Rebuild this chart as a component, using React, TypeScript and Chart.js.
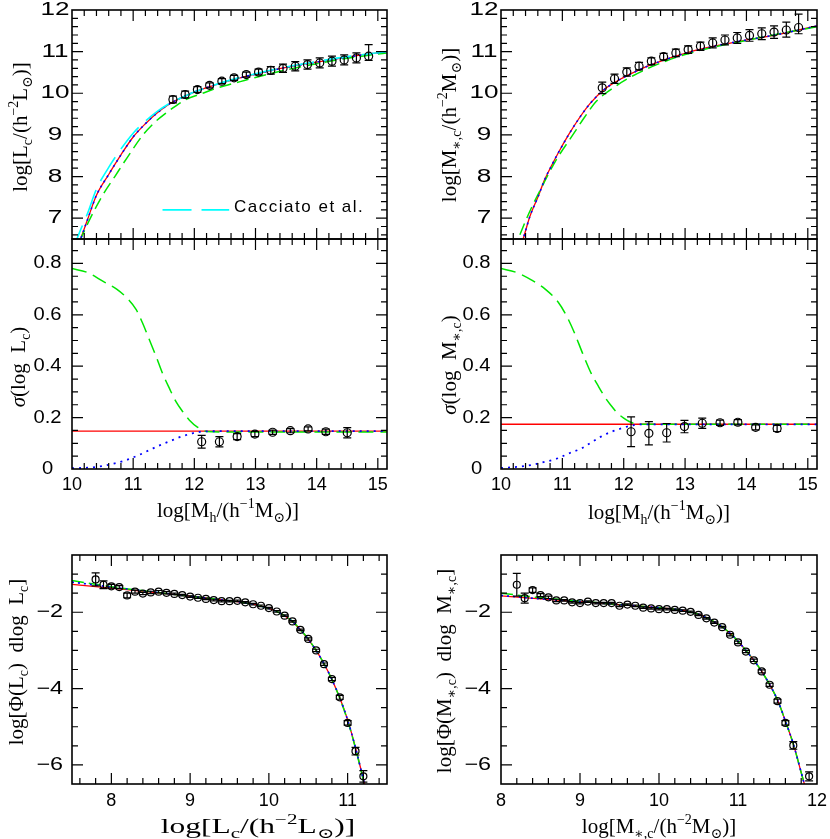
import React, { useEffect, useRef } from 'react';
import { Chart, registerables } from 'chart.js';

Chart.register(...registerables);

// ================= DATA =================
// --- Top-left: log L_c vs log M_h ---
const lcRedX = [10.0, 10.14, 10.25, 10.4, 10.6, 10.8, 11.0, 11.2, 11.4, 11.6, 11.8, 12.0, 12.25, 12.5, 12.75, 13.0, 13.5, 14.0, 14.5, 15.15];
const lcRedY = [6.0, 6.5, 6.95, 7.55, 8.05, 8.52, 8.95, 9.27, 9.54, 9.75, 9.9, 10.03, 10.16, 10.27, 10.37, 10.46, 10.62, 10.75, 10.87, 11.0];
const lcCyanY = [6.2, 6.72, 7.1, 7.7, 8.22, 8.66, 9.04, 9.33, 9.57, 9.76, 9.9, 10.03, 10.16, 10.28, 10.38, 10.47, 10.63, 10.76, 10.88, 11.0];
const lcGreenX = [10.0, 10.14, 10.3, 10.5, 10.7, 10.9, 11.16, 11.35, 11.54, 11.7, 11.86, 12.1, 12.3, 12.5, 12.75, 13.0, 13.5, 14.0, 14.5, 15.15];
const lcGreenY = [6.05, 6.5, 7.0, 7.55, 8.0, 8.45, 9.0, 9.3, 9.53, 9.7, 9.85, 9.98, 10.09, 10.18, 10.28, 10.38, 10.56, 10.71, 10.84, 10.97];
const obsMhX = [11.65, 11.85, 12.05, 12.25, 12.45, 12.65, 12.85, 13.05, 13.25, 13.45, 13.65, 13.85, 14.05, 14.25, 14.45, 14.65, 14.85];
const lcObsY = [9.85, 9.97, 10.09, 10.19, 10.29, 10.37, 10.45, 10.51, 10.55, 10.6, 10.65, 10.69, 10.73, 10.77, 10.8, 10.85, 10.89];
const lcErrLo = [0.08, 0.08, 0.07, 0.06, 0.06, 0.06, 0.06, 0.07, 0.09, 0.1, 0.11, 0.11, 0.12, 0.12, 0.12, 0.12, 0.1];
const lcErrHi = [0.08, 0.08, 0.07, 0.06, 0.06, 0.06, 0.06, 0.07, 0.09, 0.1, 0.11, 0.11, 0.12, 0.12, 0.12, 0.12, 0.28];

// --- Top-right: log M*,c vs log M_h ---
const msRedX = [10.2, 10.36, 10.47, 10.6, 10.71, 10.82, 10.93, 11.1, 11.26, 11.45, 11.69, 11.9, 12.12, 12.4, 12.66, 13.0, 13.47, 14.0, 14.28, 14.7, 15.15];
const msRedY = [5.9, 6.5, 7.04, 7.5, 7.92, 8.25, 8.56, 9.0, 9.37, 9.75, 10.1, 10.3, 10.47, 10.66, 10.8, 10.96, 11.13, 11.28, 11.35, 11.47, 11.62];
const msGreenX = [10.2, 10.28, 10.45, 10.7, 10.9, 11.17, 11.35, 11.55, 11.8, 12.1, 12.4, 12.7, 13.0, 13.5, 14.0, 14.5, 15.15];
const msGreenY = [6.2, 6.5, 7.1, 7.85, 8.4, 9.0, 9.4, 9.8, 10.1, 10.38, 10.6, 10.78, 10.93, 11.12, 11.27, 11.42, 11.6];
const msObsY = [10.13, 10.35, 10.51, 10.65, 10.77, 10.88, 10.97, 11.05, 11.13, 11.21, 11.28, 11.33, 11.39, 11.43, 11.47, 11.52, 11.58];
const msErrLo = [0.14, 0.11, 0.1, 0.09, 0.08, 0.08, 0.09, 0.09, 0.1, 0.12, 0.12, 0.13, 0.14, 0.14, 0.15, 0.17, 0.15];
const msErrHi = [0.14, 0.11, 0.1, 0.09, 0.08, 0.08, 0.09, 0.09, 0.1, 0.12, 0.12, 0.13, 0.14, 0.14, 0.15, 0.19, 0.32];

// --- Middle: scatter sigma ---
const sigObsX = [12.12, 12.41, 12.7, 12.99, 13.28, 13.57, 13.86, 14.15, 14.5];
const flatX = [10.0, 15.15];
const sigLcRedY = [0.147, 0.147];
const sigLcGreenX = [10.0, 10.25, 10.51, 10.73, 10.9, 11.05, 11.15, 11.27, 11.38, 11.48, 11.6, 11.7, 11.82, 11.92, 12.05, 12.2, 12.5, 15.15];
const sigLcGreenY = [0.78, 0.765, 0.73, 0.7, 0.665, 0.62, 0.57, 0.5, 0.435, 0.372, 0.31, 0.262, 0.22, 0.19, 0.163, 0.146, 0.144, 0.144];
const sigLcBlueX = [10.0, 10.25, 10.46, 10.7, 10.89, 11.1, 11.27, 11.45, 11.65, 11.8, 11.97, 12.15, 12.4, 15.15];
const sigLcBlueY = [0.003, 0.005, 0.01, 0.022, 0.035, 0.055, 0.074, 0.094, 0.113, 0.127, 0.139, 0.146, 0.147, 0.147];
const sigLcObsY = [0.106, 0.106, 0.126, 0.136, 0.143, 0.149, 0.156, 0.145, 0.141];
const sigLcErr = [0.025, 0.02, 0.012, 0.01, 0.008, 0.008, 0.008, 0.01, 0.02];

const sigMsRedY = [0.174, 0.174];
const sigMsGreenX = [10.0, 10.25, 10.5, 10.72, 10.93, 11.07, 11.2, 11.33, 11.47, 11.58, 11.69, 11.8, 11.9, 12.0, 12.09, 12.2, 12.4, 15.15];
const sigMsGreenY = [0.78, 0.765, 0.735, 0.7, 0.65, 0.595, 0.528, 0.45, 0.372, 0.325, 0.281, 0.245, 0.217, 0.198, 0.185, 0.176, 0.174, 0.174];
const sigMsBlueX = [10.0, 10.25, 10.5, 10.72, 10.93, 11.1, 11.31, 11.47, 11.63, 11.8, 11.96, 12.17, 12.4, 15.15];
const sigMsBlueY = [0.004, 0.008, 0.016, 0.028, 0.042, 0.06, 0.08, 0.103, 0.126, 0.145, 0.158, 0.171, 0.174, 0.174];
const sigMsObsY = [0.145, 0.139, 0.141, 0.165, 0.178, 0.18, 0.182, 0.162, 0.158];
const sigMsErr = [0.058, 0.045, 0.036, 0.024, 0.02, 0.01, 0.01, 0.01, 0.012];

// --- Bottom-left: luminosity function of centrals ---
const lfModelX = [7.5, 8.0, 8.5, 9.0, 9.5, 9.8, 10.0, 10.1, 10.2, 10.3, 10.4, 10.5, 10.6, 10.7, 10.8, 10.9, 11.0, 11.1, 11.2, 11.3];
const lfRedY = [-1.27, -1.37, -1.47, -1.58, -1.7, -1.79, -1.9, -1.98, -2.09, -2.25, -2.46, -2.71, -3.0, -3.35, -3.76, -4.24, -4.82, -5.55, -6.38, -7.2];
const lfGreenY = [-1.17, -1.33, -1.46, -1.58, -1.7, -1.79, -1.9, -1.98, -2.09, -2.24, -2.45, -2.7, -3.0, -3.35, -3.76, -4.25, -4.84, -5.56, -6.4, -7.25];
const lfBlueY = [-1.21, -1.34, -1.46, -1.58, -1.7, -1.79, -1.9, -1.98, -2.09, -2.25, -2.46, -2.71, -3.0, -3.35, -3.76, -4.24, -4.82, -5.55, -6.38, -7.2];
const lfObsX = [7.8, 7.9, 8.0, 8.1, 8.2, 8.3, 8.4, 8.5, 8.6, 8.7, 8.8, 8.9, 9.0, 9.1, 9.2, 9.3, 9.4, 9.5, 9.6, 9.7, 9.8, 9.9, 10.0, 10.1, 10.2, 10.3, 10.4, 10.5, 10.6, 10.7, 10.8, 10.9, 11.0, 11.1, 11.2];
const lfObsY = [-1.14, -1.28, -1.32, -1.34, -1.56, -1.46, -1.51, -1.48, -1.46, -1.49, -1.52, -1.55, -1.59, -1.62, -1.65, -1.68, -1.71, -1.71, -1.7, -1.74, -1.79, -1.83, -1.89, -1.98, -2.09, -2.24, -2.46, -2.7, -3.0, -3.36, -3.75, -4.23, -4.9, -5.64, -6.3];
const lfErr = [0.17, 0.1, 0.05, 0.04, 0.06, 0.04, 0.03, 0.03, 0.03, 0.03, 0.02, 0.02, 0.02, 0.02, 0.02, 0.02, 0.02, 0.02, 0.02, 0.02, 0.02, 0.02, 0.02, 0.02, 0.02, 0.02, 0.02, 0.03, 0.03, 0.03, 0.04, 0.05, 0.06, 0.1, 0.15];

// --- Bottom-right: stellar mass function of centrals ---
const mfModelX = [8.0, 8.5, 9.0, 9.5, 10.0, 10.3, 10.5, 10.7, 10.9, 11.1, 11.3, 11.5, 11.6, 11.7, 11.8, 11.9];
const mfRedY = [-1.57, -1.65, -1.72, -1.8, -1.88, -1.95, -2.05, -2.25, -2.55, -3.0, -3.55, -4.3, -4.85, -5.45, -6.2, -6.95];
const mfGreenY = [-1.5, -1.62, -1.71, -1.8, -1.88, -1.95, -2.05, -2.25, -2.55, -3.0, -3.55, -4.3, -4.85, -5.45, -6.2, -6.95];
const mfBlueY = [-1.56, -1.65, -1.72, -1.8, -1.88, -1.95, -2.05, -2.25, -2.55, -3.0, -3.55, -4.3, -4.85, -5.45, -6.2, -6.95];
const mfObsX = [8.2, 8.3, 8.4, 8.5, 8.6, 8.7, 8.8, 8.9, 9.0, 9.1, 9.2, 9.3, 9.4, 9.5, 9.6, 9.7, 9.8, 9.9, 10.0, 10.1, 10.2, 10.3, 10.4, 10.5, 10.6, 10.7, 10.8, 10.9, 11.0, 11.1, 11.2, 11.3, 11.4, 11.5, 11.6, 11.7, 11.9];
const mfObsY = [-1.28, -1.63, -1.42, -1.55, -1.61, -1.69, -1.69, -1.74, -1.76, -1.72, -1.76, -1.76, -1.76, -1.83, -1.8, -1.83, -1.88, -1.9, -1.92, -1.92, -1.94, -1.96, -1.99, -2.07, -2.16, -2.27, -2.39, -2.59, -2.79, -3.03, -3.26, -3.55, -3.9, -4.33, -4.9, -5.49, -6.3];
const mfErr = [0.3, 0.13, 0.06, 0.04, 0.03, 0.03, 0.02, 0.02, 0.02, 0.02, 0.02, 0.02, 0.02, 0.02, 0.02, 0.02, 0.02, 0.02, 0.02, 0.02, 0.02, 0.02, 0.02, 0.02, 0.02, 0.02, 0.02, 0.03, 0.03, 0.03, 0.03, 0.04, 0.04, 0.05, 0.06, 0.1, 0.12];

// --- tick values / labels ---
const mhTicks = [10, 11, 12, 13, 14, 15];
const mhTickLabels = ['10', '11', '12', '13', '14', '15'];
const logLTicks = [7, 8, 9, 10, 11, 12];
const logLTickLabels = ['7', '8', '9', '10', '11', '12'];
const sigmaTicks = [0, 0.2, 0.4, 0.6, 0.8];
const sigmaTickLabels = ['0', '0.2', '0.4', '0.6', '0.8'];
const phiTicks = [-6, -4, -2];
const phiTickLabels = ['\u22126', '\u22124', '\u22122'];
const lcTicks = [8, 9, 10, 11];
const lcTickLabels = ['8', '9', '10', '11'];
const msTicks = [8, 9, 10, 11, 12];
const msTickLabels = ['8', '9', '10', '11', '12'];

const legendLabel = 'Cacciato et al.';

// ================= STYLE / HELPERS =================
const RED = '#ff0000';
const GREEN = '#00e600';
const BLUE = '#0000ff';
const CYAN = '#00ffff';
const SUN = '\u2299';

function range(a: number, b: number, step: number) {
  const out: number[] = [];
  for (let k = 0; a + k * step <= b + 1e-9; k++) out.push(Math.round((a + k * step) * 1000) / 1000);
  return out;
}

type Seg = { t: string; s?: 'sub' | 'sup'; i?: boolean };

const SERIF = '"Liberation Serif", "DejaVu Serif", serif';
const SANS = '"Liberation Sans", Arial, sans-serif';

function drawRich(ctx: CanvasRenderingContext2D, segs: Seg[], cx: number, cy: number, vertical: boolean, sx = 1) {
  const base = 21;
  const small = 14;
  const fontOf = (s: Seg) => `${s.i ? 'italic ' : ''}${s.s ? small : base}px ${SERIF}`;
  ctx.save();
  ctx.translate(cx, cy);
  if (vertical) ctx.rotate(-Math.PI / 2);
  ctx.scale(sx, 1);
  ctx.fillStyle = '#000';
  ctx.textAlign = 'left';
  ctx.textBaseline = 'alphabetic';
  let w = 0;
  for (const s of segs) {
    ctx.font = fontOf(s);
    w += ctx.measureText(s.t).width;
  }
  let x = -w / 2;
  const by = base * 0.32;
  for (const s of segs) {
    ctx.font = fontOf(s);
    const dy = s.s === 'sub' ? base * 0.27 : s.s === 'sup' ? -base * 0.4 : 0;
    ctx.fillText(s.t, x, by + dy);
    x += ctx.measureText(s.t).width;
  }
  ctx.restore();
}

const pts = (xs: number[], ys: number[]) => xs.map((x, i) => ({ x, y: ys[i] }));

const curve = (xs: number[], ys: number[], color: string, dash: number[], width: number) => ({
  type: 'line',
  data: pts(xs, ys),
  borderColor: color,
  borderWidth: width,
  borderDash: dash,
  pointRadius: 0,
  fill: false,
  cubicInterpolationMode: 'monotone',
});

const observed = (xs: number[], ys: number[], lo: number[], hi: number[], r: number) => ({
  type: 'line',
  showLine: false,
  data: pts(xs, ys),
  pointRadius: r,
  pointBorderColor: '#000',
  pointBackgroundColor: 'rgba(0,0,0,0)',
  pointBorderWidth: 1.2,
  errLo: lo,
  errHi: hi,
});

// widen the tick labels horizontally (the reference uses a broad plotting font)
function stretchLabels(scale: any, sx: number) {
  if (scale.__stretched) return;
  scale.__stretched = true;
  const orig = scale.drawLabels;
  scale.drawLabels = function (area: any) {
    const items = this.getLabelItems(area);
    const cx = items.length ? items[0].options.translation[0] : 0;
    const c = this.ctx;
    c.save();
    c.translate(cx, 0);
    c.scale(sx, 1);
    c.translate(-cx, 0);
    orig.call(this, area);
    c.restore();
  };
}

const framePlugin = {
  id: 'frame',
  afterDatasetsDraw(chart: any) {
    const { ctx, chartArea: a, scales } = chart;
    const xs = scales.x;
    const ys = scales.y;
    ctx.save();
    ctx.beginPath();
    ctx.rect(a.left, a.top, a.right - a.left, a.bottom - a.top);
    ctx.clip();
    ctx.strokeStyle = '#000';
    ctx.lineWidth = 1.2;
    chart.data.datasets.forEach((ds: any) => {
      if (!ds.errLo) return;
      ds.data.forEach((p: any, i: number) => {
        const px = xs.getPixelForValue(p.x);
        const y1 = ys.getPixelForValue(p.y - ds.errLo[i]);
        const y2 = ys.getPixelForValue(p.y + ds.errHi[i]);
        const cap = 4;
        ctx.beginPath();
        ctx.moveTo(px, y1);
        ctx.lineTo(px, y2);
        ctx.moveTo(px - cap, y1);
        ctx.lineTo(px + cap, y1);
        ctx.moveTo(px - cap, y2);
        ctx.lineTo(px + cap, y2);
        ctx.stroke();
      });
    });
    ctx.restore();
  },
  afterDraw(chart: any, _args: any, opts: any) {
    const { ctx, chartArea: a, scales } = chart;
    const xs = scales.x;
    const ys = scales.y;
    ctx.save();
    ctx.strokeStyle = '#000';
    ctx.lineWidth = 1.2;
    const MAJ = 11;
    const MIN = 6;
    ctx.beginPath();
    const xt = (vals: number[], len: number) => {
      for (const v of vals) {
        const px = xs.getPixelForValue(v);
        if (px < a.left + 0.5 || px > a.right - 0.5) continue;
        ctx.moveTo(px, a.bottom);
        ctx.lineTo(px, a.bottom - len);
        ctx.moveTo(px, a.top);
        ctx.lineTo(px, a.top + len);
      }
    };
    const yt = (vals: number[], len: number) => {
      for (const v of vals) {
        const py = ys.getPixelForValue(v);
        if (py < a.top + 0.5 || py > a.bottom - 0.5) continue;
        ctx.moveTo(a.left, py);
        ctx.lineTo(a.left + len, py);
        ctx.moveTo(a.right, py);
        ctx.lineTo(a.right - len, py);
      }
    };
    xt(opts.xMinor, MIN);
    xt(opts.xMajor, MAJ);
    yt(opts.yMinor, MIN);
    yt(opts.yMajor, MAJ);
    ctx.stroke();
    ctx.lineWidth = 1.6;
    ctx.strokeRect(a.left, a.top, a.right - a.left, a.bottom - a.top);

    if (opts.key) {
      const k = opts.key;
      const x0 = xs.getPixelForValue(k.x0);
      const x1 = xs.getPixelForValue(k.x1);
      const y0 = ys.getPixelForValue(k.y);
      ctx.strokeStyle = CYAN;
      ctx.lineWidth = 1.6;
      ctx.setLineDash([29, 10]);
      ctx.beginPath();
      ctx.moveTo(x0, y0);
      ctx.lineTo(x1, y0);
      ctx.stroke();
      ctx.setLineDash([]);
      ctx.fillStyle = '#000';
      ctx.font = `17px ${SANS}`;
      (ctx as any).letterSpacing = '1.5px';
      ctx.textAlign = 'left';
      ctx.textBaseline = 'middle';
      ctx.fillText(k.label, xs.getPixelForValue(k.tx), y0 - 3);
      (ctx as any).letterSpacing = '0px';
    }
    ctx.restore();

    const off = opts.offset;
    if (opts.yTitle) drawRich(ctx, opts.yTitle, opts.yTitlePos[0] - off[0], opts.yTitlePos[1] - off[1], true);
    if (opts.xTitle) drawRich(ctx, opts.xTitle, opts.xTitlePos[0] - off[0], opts.xTitlePos[1] - off[1], false, opts.xTitleStretch || 1);
  },
};

type PanelDef = {
  box: [number, number, number, number];
  canvas: [number, number, number, number];
  yPad: number;
  yStretch: number;
  xPad: number;
  xMin: number; xMax: number; yMin: number; yMax: number;
  xMajor: number[]; xLabels: string[] | null; xMinor: number[];
  yMajor: number[]; yLabels: string[]; yMinor: number[];
  datasets: any[];
  yTitle: Seg[]; yTitlePos: [number, number];
  xTitle?: Seg[]; xTitlePos?: [number, number]; xTitleStretch?: number;
  key?: any;
};

const lcTitle: Seg[] = [{ t: 'log[L' }, { t: 'c', s: 'sub' }, { t: '/(h' }, { t: '\u22122', s: 'sup' }, { t: 'L' }, { t: SUN, s: 'sub' }, { t: ')]' }];
const msTitle: Seg[] = [{ t: 'log[M' }, { t: '\u2217,c', s: 'sub' }, { t: '/(h' }, { t: '\u22122', s: 'sup' }, { t: 'M' }, { t: SUN, s: 'sub' }, { t: ')]' }];
const mhTitle: Seg[] = [{ t: 'log[M' }, { t: 'h', s: 'sub' }, { t: '/(h' }, { t: '\u22121', s: 'sup' }, { t: 'M' }, { t: SUN, s: 'sub' }, { t: ')]' }];
const sigLcTitle: Seg[] = [{ t: '\u03c3', i: true }, { t: '(log  L' }, { t: 'c', s: 'sub' }, { t: ')' }];
const sigMsTitle: Seg[] = [{ t: '\u03c3', i: true }, { t: '(log  M' }, { t: '\u2217,c', s: 'sub' }, { t: ')' }];
const phiLcTitle: Seg[] = [{ t: 'log[\u03a6(L' }, { t: 'c', s: 'sub' }, { t: ')  dlog  L' }, { t: 'c', s: 'sub' }, { t: ']' }];
const phiMsTitle: Seg[] = [{ t: 'log[\u03a6(M' }, { t: '\u2217,c', s: 'sub' }, { t: ')  dlog  M' }, { t: '\u2217,c', s: 'sub' }, { t: ']' }];

const mhMinor = range(10, 15.15, 0.2);

const panels: PanelDef[] = [
  {
    box: [72, 10, 387, 239], canvas: [0, -20, 415, 264], yPad: 7, yStretch: 1.45, xPad: 5,
    xMin: 10, xMax: 15.15, yMin: 6.5, yMax: 12,
    xMajor: mhTicks, xLabels: null, xMinor: mhMinor,
    yMajor: logLTicks, yLabels: logLTickLabels, yMinor: range(6.6, 12, 0.2),
    datasets: [
      observed(obsMhX, lcObsY, lcErrLo, lcErrHi, 4),
      curve(lcRedX, lcCyanY, CYAN, [28, 10], 1.6),
      curve(lcRedX, lcRedY, BLUE, [2, 4], 1.6),
      curve(lcGreenX, lcGreenY, GREEN, [12, 6], 1.5),
      curve(lcRedX, lcRedY, RED, [], 1.3),
    ],
    yTitle: lcTitle, yTitlePos: [20, 127],
    key: { x0: 11.48, x1: 12.57, y: 7.2, tx: 12.65, label: legendLabel },
  },
  {
    box: [501, 10, 817, 239], canvas: [415, -20, 850, 264], yPad: 7, yStretch: 1.45, xPad: 5,
    xMin: 10, xMax: 15.15, yMin: 6.5, yMax: 12,
    xMajor: mhTicks, xLabels: null, xMinor: mhMinor,
    yMajor: logLTicks, yLabels: logLTickLabels, yMinor: range(6.6, 12, 0.2),
    datasets: [
      observed(obsMhX, msObsY, msErrLo, msErrHi, 4),
      curve(msRedX, msRedY, BLUE, [2, 4], 1.6),
      curve(msGreenX, msGreenY, GREEN, [12, 6], 1.5),
      curve(msRedX, msRedY, RED, [], 1.3),
    ],
    yTitle: msTitle, yTitlePos: [449, 125],
  },
  {
    box: [72, 239, 387, 469], canvas: [0, 209, 415, 530], yPad: 12, yStretch: 1.12, xPad: 5,
    xMin: 10, xMax: 15.15, yMin: 0, yMax: 0.895,
    xMajor: mhTicks, xLabels: mhTickLabels, xMinor: mhMinor,
    yMajor: sigmaTicks, yLabels: sigmaTickLabels, yMinor: range(0, 0.85, 0.05),
    datasets: [
      observed(sigObsX, sigLcObsY, sigLcErr, sigLcErr, 4),
      curve(sigLcBlueX, sigLcBlueY, BLUE, [2, 5], 1.8),
      curve(sigLcGreenX, sigLcGreenY, GREEN, [15, 7], 1.5),
      curve(flatX, sigLcRedY, RED, [], 1.3),
    ],
    yTitle: sigLcTitle, yTitlePos: [18, 367],
    xTitle: mhTitle, xTitlePos: [228, 510],
  },
  {
    box: [501, 239, 817, 469], canvas: [415, 209, 850, 530], yPad: 12, yStretch: 1.12, xPad: 5,
    xMin: 10, xMax: 15.15, yMin: 0, yMax: 0.895,
    xMajor: mhTicks, xLabels: mhTickLabels, xMinor: mhMinor,
    yMajor: sigmaTicks, yLabels: sigmaTickLabels, yMinor: range(0, 0.85, 0.05),
    datasets: [
      observed(sigObsX, sigMsObsY, sigMsErr, sigMsErr, 4),
      curve(sigMsBlueX, sigMsBlueY, BLUE, [2, 5], 1.8),
      curve(sigMsGreenX, sigMsGreenY, GREEN, [15, 7], 1.5),
      curve(flatX, sigMsRedY, RED, [], 1.6),
    ],
    yTitle: sigMsTitle, yTitlePos: [449, 365],
    xTitle: mhTitle, xTitlePos: [659, 512],
  },
  {
    box: [72, 555, 387, 784], canvas: [0, 520, 415, 839], yPad: 12, yStretch: 1.3, xPad: 6,
    xMin: 7.5, xMax: 11.5, yMin: -6.5, yMax: -0.5,
    xMajor: lcTicks, xLabels: lcTickLabels, xMinor: range(7.6, 11.4, 0.2),
    yMajor: phiTicks, yLabels: phiTickLabels, yMinor: range(-6.5, -0.5, 0.5),
    datasets: [
      observed(lfObsX, lfObsY, lfErr, lfErr, 3.5),
      curve(lfModelX, lfBlueY, BLUE, [2, 4], 1.6),
      curve(lfModelX, lfGreenY, GREEN, [12, 5], 1.5),
      curve(lfModelX, lfRedY, RED, [], 1.3),
    ],
    yTitle: phiLcTitle, yTitlePos: [16, 662],
    xTitle: lcTitle, xTitlePos: [258, 826], xTitleStretch: 1.5,
  },
  {
    box: [501, 555, 817, 784], canvas: [415, 520, 850, 839], yPad: 13, yStretch: 1.3, xPad: 6,
    xMin: 8, xMax: 12, yMin: -6.5, yMax: -0.5,
    xMajor: msTicks, xLabels: msTickLabels, xMinor: range(8, 12, 0.2),
    yMajor: phiTicks, yLabels: phiTickLabels, yMinor: range(-6.5, -0.5, 0.5),
    datasets: [
      observed(mfObsX, mfObsY, mfErr, mfErr, 3.5),
      curve(mfModelX, mfBlueY, BLUE, [2, 4], 1.6),
      curve(mfModelX, mfGreenY, GREEN, [12, 5], 1.5),
      curve(mfModelX, mfRedY, RED, [], 1.3),
    ],
    yTitle: phiMsTitle, yTitlePos: [444, 671],
    xTitle: msTitle, xTitlePos: [659, 826],
  },
];

function Panel({ p }: { p: PanelDef }) {
  const ref = useRef<HTMLCanvasElement | null>(null);
  const [L, T, R, B] = p.canvas;
  const [l, t, r, b] = p.box;
  useEffect(() => {
    if (!ref.current) return;
    const chart = new Chart(ref.current, {
      type: 'line',
      data: { datasets: p.datasets as any },
      plugins: [framePlugin as any],
      options: {
        animation: false,
        responsive: false,
        maintainAspectRatio: false,
        devicePixelRatio: 1,
        layout: { padding: { left: 0, top: t - T, right: R - r, bottom: 0 } },
        plugins: {
          legend: { display: false },
          tooltip: { enabled: false },
          frame: {
            xMajor: p.xMajor, xMinor: p.xMinor, yMajor: p.yMajor, yMinor: p.yMinor,
            yTitle: p.yTitle, yTitlePos: p.yTitlePos, xTitle: p.xTitle, xTitlePos: p.xTitlePos,
            xTitleStretch: p.xTitleStretch, key: p.key, offset: [L, T],
          },
        } as any,
        scales: {
          x: {
            type: 'linear', position: 'bottom', min: p.xMin, max: p.xMax,
            grid: { display: false, drawTicks: false },
            border: { display: false },
            ticks: {
              display: !!p.xLabels, color: '#000', padding: p.xPad, maxRotation: 0, autoSkip: false,
              font: { family: SANS, size: 18 },
              callback: (_v: any, i: number) => (p.xLabels ? p.xLabels[i] : ''),
            },
            afterBuildTicks: (s: any) => { s.ticks = p.xMajor.map((v) => ({ value: v })); },
            afterFit: (s: any) => { s.height = B - b; },
          },
          y: {
            type: 'linear', position: 'left', min: p.yMin, max: p.yMax,
            grid: { display: false, drawTicks: false },
            border: { display: false },
            ticks: {
              color: '#000', padding: p.yPad, autoSkip: false, crossAlign: 'center',
              font: { family: SANS, size: 18 },
              callback: (_v: any, i: number) => p.yLabels[i],
            },
            afterBuildTicks: (s: any) => { s.ticks = p.yMajor.map((v) => ({ value: v })); },
            afterFit: (s: any) => { s.width = l - L; stretchLabels(s, p.yStretch); },
          },
        } as any,
      },
    });
    return () => chart.destroy();
  }, []);
  return (
    <canvas
      ref={ref}
      width={R - L}
      height={B - T}
      style={{ position: 'absolute', left: L, top: T, width: R - L, height: B - T }}
    />
  );
}

export default function App() {
  return (
    <div style={{ position: 'absolute', left: 0, top: 0, width: 830, height: 839, background: '#fff', overflow: 'hidden' }}>
      {panels.map((p, i) => (
        <Panel key={i} p={p} />
      ))}
    </div>
  );
}
